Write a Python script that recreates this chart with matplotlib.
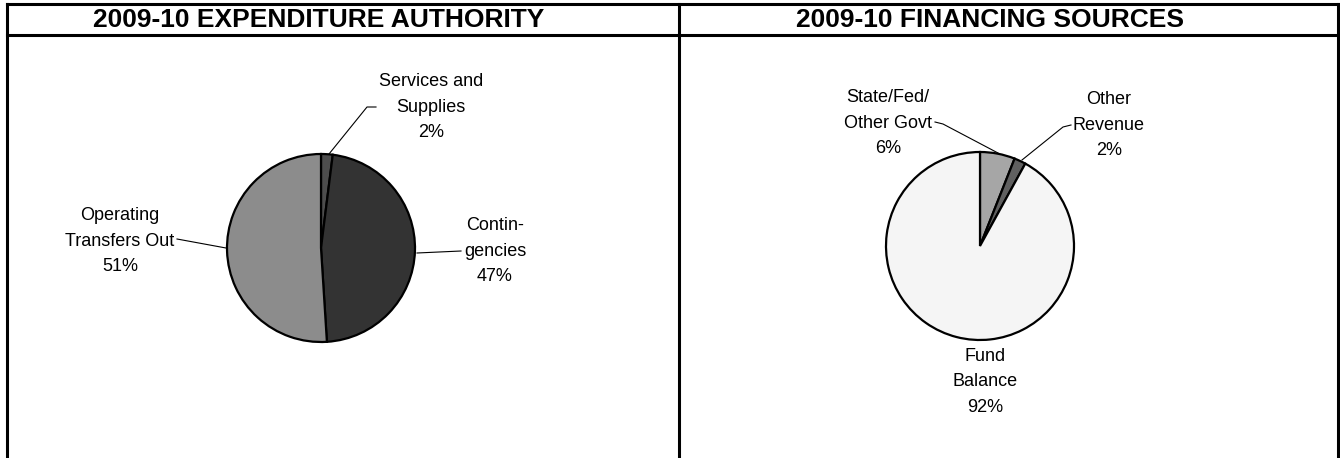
import matplotlib.pyplot as plt

W, H = 1340, 458

# data
exp_labels = ['Services and\nSupplies', 'Contin-\ngencies', 'Operating\nTransfers Out']
exp_values = [2, 47, 51]
exp_colors = ['#4d4d4d', '#333333', '#8c8c8c']

fin_labels = ['State/Fed/\nOther Govt', 'Other\nRevenue', 'Fund\nBalance']
fin_values = [6, 2, 92]
fin_colors = ['#a6a6a6', '#606060', '#f5f5f5']

# layout (pixel positions, y measured from top)
exp_center = (321, 248)
fin_center = (980, 246)
radius = 94
exp_text_pos = [(431, 107), (495, 251), (120, 241)]
fin_text_pos = [(888, 123), (1109, 125), (985, 382)]
exp_leaders = [[(376, 107), (367, 107), (329, 154)],
               [(461, 251), (417, 253)],
               [(177, 239), (226, 248)]]
fin_leaders = [[(935, 122), (943, 124), (998, 153)],
               [(1071, 125), (1063, 127), (1022, 160)],
               []]


def px(p):
    return p[0], H - p[1]


plt.rcParams['font.family'] = ['Liberation Sans', 'DejaVu Sans']

fig = plt.figure(figsize=(W / 100, H / 100), dpi=100)
ax = fig.add_axes([0, 0, 1, 1])

for vals, cols, c in [(exp_values, exp_colors, exp_center), (fin_values, fin_colors, fin_center)]:
    ax.pie(vals, colors=cols, startangle=90, counterclock=False, radius=radius,
           center=px(c), wedgeprops=dict(edgecolor='black', linewidth=1.6))

for labels, vals, pos in [(exp_labels, exp_values, exp_text_pos), (fin_labels, fin_values, fin_text_pos)]:
    for lab, v, p in zip(labels, vals, pos):
        x, y = px(p)
        ax.text(x, y, f'{lab}\n{v}%', ha='center', va='center', fontsize=13,
                linespacing=1.62, color='black')

for leader in exp_leaders + fin_leaders:
    if leader:
        xs, ys = zip(*[px(p) for p in leader])
        ax.plot(xs, ys, color='black', linewidth=0.8)

# frame and header boxes
frame = dict(color='black', linewidth=2.2, solid_capstyle='projecting')
ax.plot([7, 1338], [H - 4, H - 4], **frame)
ax.plot([7, 1338], [H - 35, H - 35], **frame)
ax.plot([7, 7], [H - 4, 0], **frame)
ax.plot([679, 679], [H - 4, 0], **frame)
ax.plot([1338, 1338], [H - 4, 0], **frame)

ax.text(319, H - 20, '2009-10 EXPENDITURE AUTHORITY', ha='center', va='center',
        fontsize=19, fontweight='bold')
ax.text(990, H - 20, '2009-10 FINANCING SOURCES', ha='center', va='center',
        fontsize=19, fontweight='bold')

ax.set_xlim(0, W)
ax.set_ylim(0, H)
ax.set_aspect('auto')
ax.axis('off')

fig.savefig('out.png', dpi=100)
